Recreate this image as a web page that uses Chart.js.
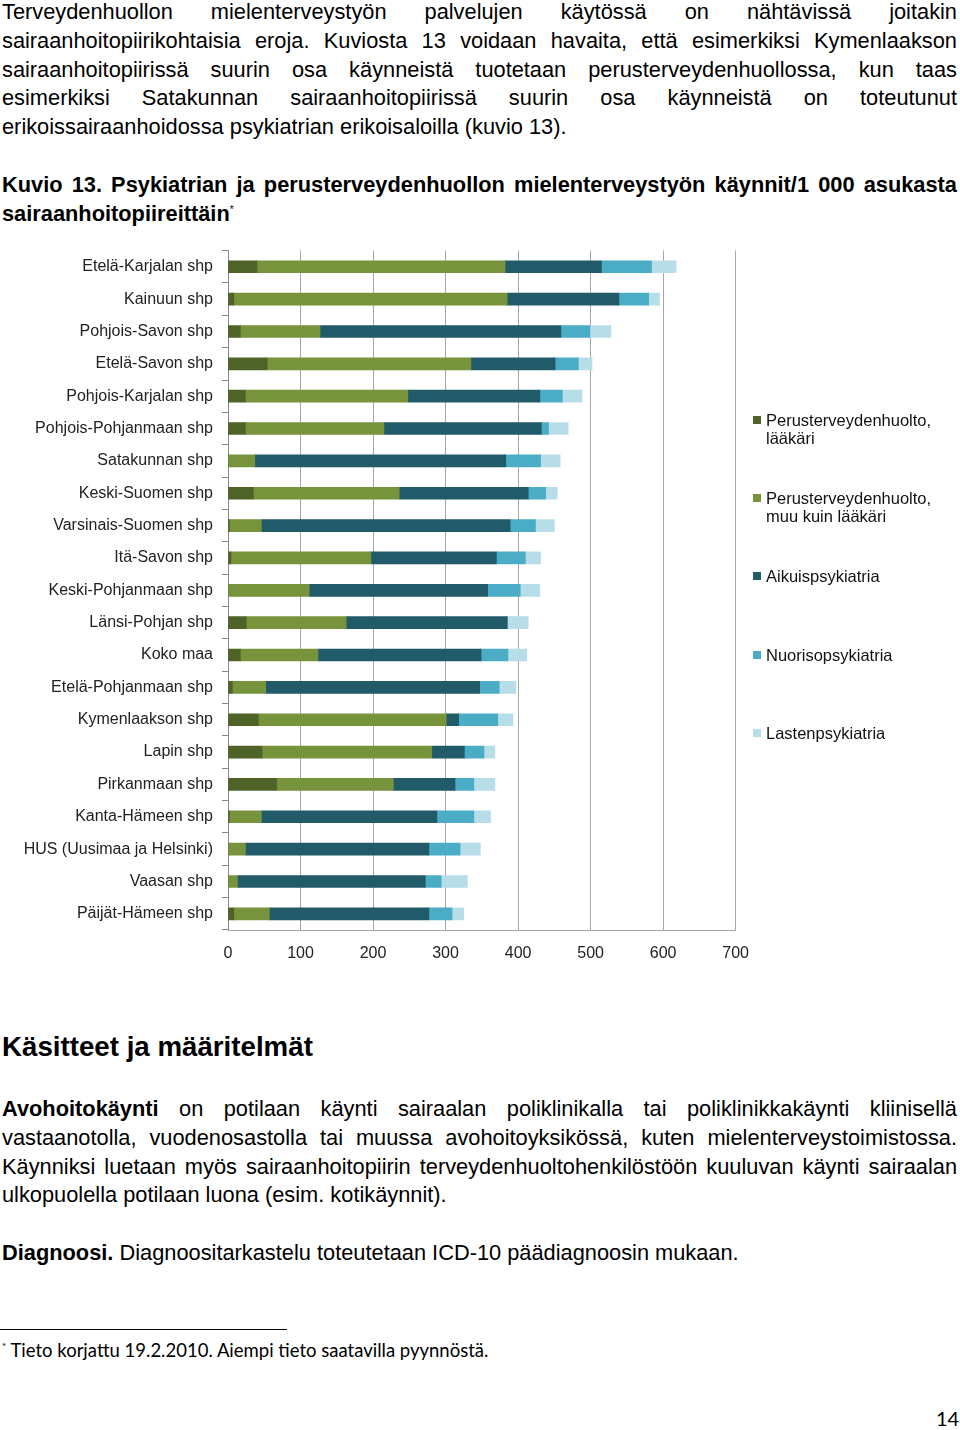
<!DOCTYPE html>
<html lang="fi">
<head>
  <meta charset="UTF-8">
  <title>Kuvio 13</title>
  <script src="https://cdn.jsdelivr.net/npm/chart.js"></script>
  <style>
    body {
      margin: 0;
      width: 960px;
      height: 1430px;
      position: relative;
      background: #fff;
      font-family: "Liberation Sans", Arial, sans-serif;
      color: #000;
      overflow: hidden;
    }
    .para {
      position: absolute;
      left: 2px;
      width: 955px;
      font-size: 21.8px;
      line-height: 28.8px;
    }
    .para div {
      text-align: justify;
      text-align-last: justify;
      white-space: nowrap;
    }
    .para div.last { text-align-last: left; }
    sup {
      font-size: 10px;
      line-height: 0;
      font-weight: normal;
    }
    h2 {
      position: absolute;
      left: 2px;
      top: 1030px;
      margin: 0;
      font-size: 27.7px;
      line-height: 34px;
    }
    #chartBox {
      position: absolute;
      left: 0;
      top: 232px;
      width: 763px;
      height: 740px;
    }
    #legend {
      position: absolute;
      left: 753px;
      top: 0;
      font-size: 16.5px;
      line-height: 18px;
      color: #111;
    }
    .legItem {
      position: absolute;
      left: 0;
      width: 205px;
      padding-left: 13px;
    }
    .legItem span {
      position: absolute;
      left: 0;
      top: 5px;
      width: 8px;
      height: 8px;
    }
    #footLine {
      position: absolute;
      left: 0;
      top: 1329px;
      width: 287px;
      border-top: 1px solid #000;
    }
    #footNote {
      position: absolute;
      left: 2px;
      top: 1339px;
      font-family: Lato, sans-serif;
      font-size: 18.5px;
    }
    #pageNo {
      position: absolute;
      left: 936px;
      top: 1406px;
      font-family: Lato, sans-serif;
      font-size: 20px;
    }
  </style>
</head>
<body>
  <div class="para" style="top:-2px">
    <div>Terveydenhuollon mielenterveystyön palvelujen käytössä on nähtävissä joitakin</div>
    <div>sairaanhoitopiirikohtaisia eroja. Kuviosta 13 voidaan havaita, että esimerkiksi Kymenlaakson</div>
    <div>sairaanhoitopiirissä suurin osa käynneistä tuotetaan perusterveydenhuollossa, kun taas</div>
    <div>esimerkiksi Satakunnan sairaanhoitopiirissä suurin osa käynneistä on toteutunut</div>
    <div class="last">erikoissairaanhoidossa psykiatrian erikoisaloilla (kuvio 13).</div>
  </div>

  <div class="para" style="top:171px; font-weight:bold">
    <div>Kuvio 13. Psykiatrian ja perusterveydenhuollon mielenterveystyön käynnit/1 000 asukasta</div>
    <div class="last">sairaanhoitopiireittäin<sup>*</sup></div>
  </div>

  <div id="chartBox"><canvas id="kayntiChart"></canvas></div>
  <div id="legend"></div>

  <h2>Käsitteet ja määritelmät</h2>

  <div class="para" style="top:1095px">
    <div><b>Avohoitokäynti</b> on potilaan käynti sairaalan poliklinikalla tai poliklinikkakäynti kliinisellä</div>
    <div>vastaanotolla, vuodenosastolla tai muussa avohoitoyksikössä, kuten mielenterveystoimistossa.</div>
    <div>Käynniksi luetaan myös sairaanhoitopiirin terveydenhuoltohenkilöstöön kuuluvan käynti sairaalan</div>
    <div class="last">ulkopuolella potilaan luona (esim. kotikäynnit).</div>
  </div>

  <div class="para" style="top:1239px">
    <div class="last"><b>Diagnoosi.</b> Diagnoositarkastelu toteutetaan ICD-10 päädiagnoosin mukaan.</div>
  </div>

  <div id="footLine"></div>
  <div id="footNote"><sup>*</sup> Tieto korjattu 19.2.2010. Aiempi tieto saatavilla pyynnöstä.</div>
  <div id="pageNo">14</div>

  <script>
    // sairaanhoitopiirit, ylhäältä alas
    const districts = [
      'Etelä-Karjalan shp', 'Kainuun shp', 'Pohjois-Savon shp', 'Etelä-Savon shp',
      'Pohjois-Karjalan shp', 'Pohjois-Pohjanmaan shp', 'Satakunnan shp', 'Keski-Suomen shp',
      'Varsinais-Suomen shp', 'Itä-Savon shp', 'Keski-Pohjanmaan shp', 'Länsi-Pohjan shp',
      'Koko maa', 'Etelä-Pohjanmaan shp', 'Kymenlaakson shp', 'Lapin shp',
      'Pirkanmaan shp', 'Kanta-Hämeen shp', 'HUS (Uusimaa ja Helsinki)', 'Vaasan shp',
      'Päijät-Hämeen shp'
    ];

    // käynnit / 1 000 asukasta (luettu kuvasta)
    const pthLaakari = [40, 8, 17, 54, 24, 24, 0, 35, 2, 4, 0, 25, 17, 6, 42, 47, 67, 2, 0, 0, 8];
    const pthMuu     = [342, 377, 110, 281, 224, 191, 37, 201, 44, 193, 112, 138, 107, 46, 259, 234, 161, 44, 24, 13, 49];
    const aikuis     = [133, 154, 332, 116, 182, 217, 346, 178, 343, 173, 246, 222, 225, 295, 17, 45, 85, 242, 253, 259, 220];
    const nuoriso    = [69, 41, 40, 32, 31, 10, 48, 24, 35, 40, 45, 0, 37, 27, 54, 27, 26, 51, 43, 22, 32];
    const lasten     = [34, 15, 29, 19, 27, 27, 27, 16, 26, 21, 27, 29, 26, 23, 21, 15, 29, 23, 28, 36, 16];

    const seriesNames = ['Perusterveydenhuolto,\nlääkäri', 'Perusterveydenhuolto,\nmuu kuin lääkäri',
      'Aikuispsykiatria', 'Nuorisopsykiatria', 'Lastenpsykiatria'];
    const seriesColors = ['#4f6228', '#77933c', '#215a69', '#4bacc6', '#b7dee8'];
    const seriesData = [pthLaakari, pthMuu, aikuis, nuoriso, lasten];

    const xTicks = [0, 100, 200, 300, 400, 500, 600, 700];

    var ctx = document.getElementById('kayntiChart').getContext('2d');
    var kayntiChart = new Chart(ctx, {
      type: 'bar',
      data: {
        labels: districts,
        datasets: seriesData.map(function(d, i) {
          return { label: seriesNames[i], data: d, backgroundColor: seriesColors[i], borderWidth: 0, barThickness: 12 };
        })
      },
      options: {
        indexAxis: 'y',
        responsive: true,
        maintainAspectRatio: false,
        animation: false,
        layout: { padding: 0 },
        plugins: {
          legend: { display: false },
          tooltip: { enabled: false }
        },
        scales: {
          x: {
            stacked: true,
            min: 0,
            max: 700,
            afterBuildTicks: function(scale) {
              scale.ticks = xTicks.map(function(v) { return { value: v }; });
            },
            afterFit: function(scale) { scale.height = 42; },
            grid: { color: '#a6a6a6', lineWidth: 1, drawTicks: false },
            border: { color: '#a6a6a6' },
            ticks: { padding: 14, color: '#222', font: { family: 'Liberation Sans', size: 16 } }
          },
          y: {
            stacked: true,
            afterFit: function(scale) { scale.width = 228; },
            grid: { drawOnChartArea: false, drawTicks: true, tickLength: 6, color: '#888', offset: true },
            border: { color: '#888' },
            ticks: { padding: 9, color: '#222', autoSkip: false, font: { family: 'Liberation Sans', size: 16 } }
          }
        }
      }
    });

    // selite oikealle
    const legendTops = [411, 489, 567, 646, 724];
    const legendBox = document.getElementById('legend');
    seriesNames.forEach(function(name, i) {
      const item = document.createElement('div');
      item.className = 'legItem';
      item.style.top = legendTops[i] + 'px';
      item.innerHTML = '<span style="background:' + seriesColors[i] + '"></span>' + name.replace('\n', '<br>');
      legendBox.appendChild(item);
    });
  </script>
</body>
</html>
